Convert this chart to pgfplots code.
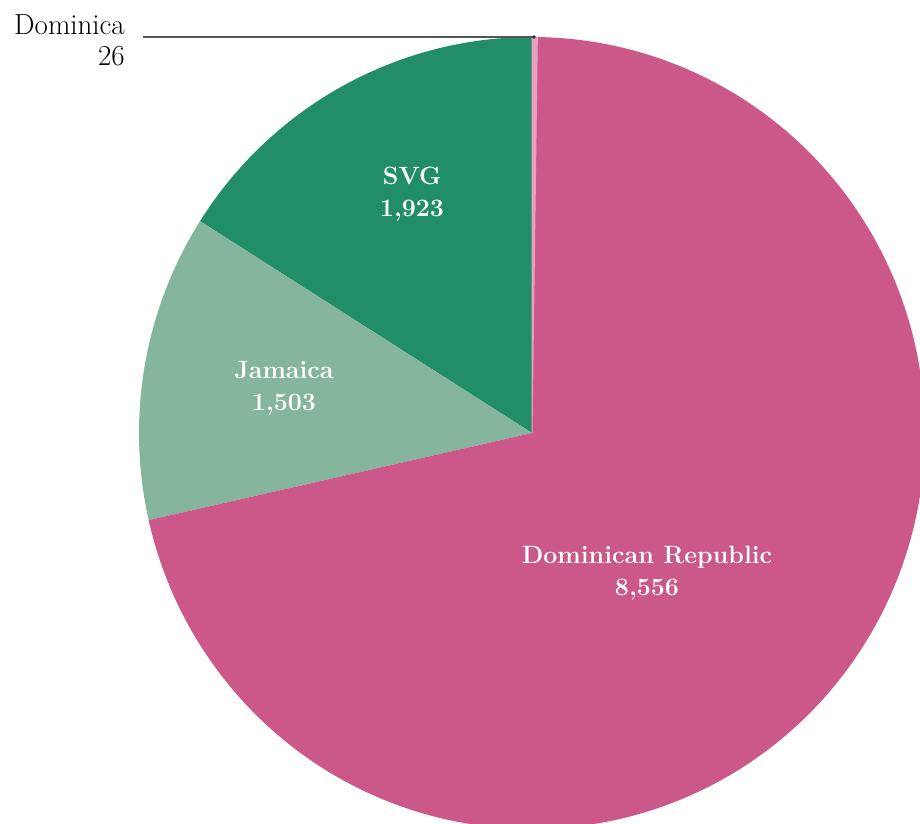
\documentclass[border=0pt]{standalone}
\usepackage{fontspec}
\usepackage{pgfplots}
\pgfplotsset{compat=1.18}
\definecolor{cDR}{HTML}{CB5888}
\definecolor{cSVG}{HTML}{228E69}
\definecolor{cJam}{HTML}{85B59C}
\definecolor{cDom}{HTML}{E8A0BD}
\definecolor{cLine}{HTML}{555555}
% data
\def\vSVG{1923}
\def\vJam{1503}
\def\vDR{8556}
\def\vDom{26}
\pgfmathsetmacro{\tot}{(\vSVG+\vJam+\vDR+\vDom)/100}
\pgfmathsetmacro{\aA}{90}
\pgfmathsetmacro{\aB}{\aA+3.6*(\vSVG/\tot)}
\pgfmathsetmacro{\aC}{\aB+3.6*(\vJam/\tot)}
\pgfmathsetmacro{\aD}{\aC+3.6*(\vDR/\tot)}
\pgfmathsetmacro{\aE}{\aD+3.6*(\vDom/\tot)}
\def\cx{532}
\def\cy{390}
\def\rx{393}
\def\ry{396}
\begin{document}
\begin{tikzpicture}
\begin{axis}[
  scale only axis, width=920pt, height=823pt,
  xmin=0, xmax=920, ymin=0, ymax=823,
  hide axis, clip=true,
]
\addplot[fill=cSVG, draw=none, domain=\aA:\aB, samples=80, variable=\t]
  ({\cx+\rx*cos(t)},{\cy+\ry*sin(t)}) -- (axis cs:\cx,\cy) -- cycle;
\addplot[fill=cJam, draw=none, domain=\aB:\aC, samples=80, variable=\t]
  ({\cx+\rx*cos(t)},{\cy+\ry*sin(t)}) -- (axis cs:\cx,\cy) -- cycle;
\addplot[fill=cDR, draw=none, domain=\aC:\aD, samples=300, variable=\t]
  ({\cx+\rx*cos(t)},{\cy+\ry*sin(t)}) -- (axis cs:\cx,\cy) -- cycle;
\addplot[fill=cDom, draw=cDom, line width=1pt, line join=round, domain=\aD:\aE, samples=5, variable=\t]
  ({\cx+\rx*cos(t)},{\cy+\ry*sin(t)}) -- (axis cs:\cx,\cy) -- cycle;
\draw[cLine, line width=1.5pt] (axis cs:143,786) -- (axis cs:534,786);
\fill[black!80] (axis cs:534,786) circle (1.8pt);
\node[anchor=base east, inner sep=0pt, font=\fontsize{29}{31}\selectfont]
  at (axis cs:125,788) {Dominica};
\node[anchor=base east, inner sep=0pt, font=\fontsize{29}{31}\selectfont]
  at (axis cs:125,757) {26};
\tikzset{lab/.style={anchor=base, inner sep=0pt, text=white, font=\fontsize{25}{31}\selectfont\bfseries}}
\node[lab] at (axis cs:412,638) {SVG};
\node[lab] at (axis cs:412,606) {1,923};
\node[lab] at (axis cs:284,445) {Jamaica};
\node[lab] at (axis cs:284,413) {1,503};
\node[lab] at (axis cs:647,260) {Dominican Republic};
\node[lab] at (axis cs:647,228) {8,556};
\coordinate (bl) at (axis cs:0,0);
\coordinate (tr) at (axis cs:920,823);
\end{axis}
\pgfresetboundingbox
\path[use as bounding box] (bl) rectangle (tr);
\end{tikzpicture}
\end{document}
